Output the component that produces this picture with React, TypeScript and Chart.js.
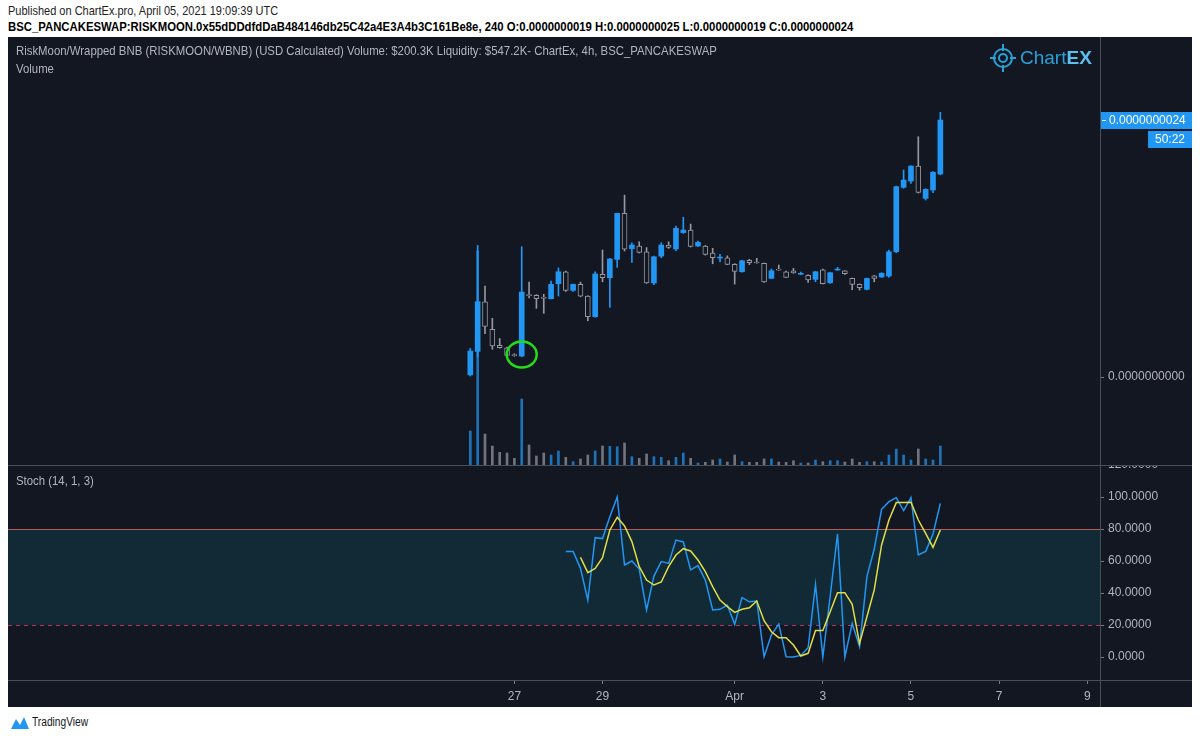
import React, { useEffect, useRef } from 'react';
import { Chart, registerables } from 'chart.js';

Chart.register(...registerables);

// ---------------- DATA ----------------
// 4h candles, index 0 = 26 Mar 2021 00:00 UTC. Prices in units of 1e-10.
const opens = [0.2, 2.4, 7.04, 4.46, 2.96, 2.74, 2.05, 1.96, 7.7, 7.64, 7.4, 7.32, 8.72, 9.84, 8.1, 8.66, 7.57, 5.64, 9.6, 9.28, 11.0, 15.3, 12.0, 12.24, 11.7, 8.79, 11.3, 12.34, 11.96, 13.5, 13.74, 12.24, 12.24, 11.59, 11.12, 11.15, 10.53, 9.84, 10.9, 10.7, 10.62, 9.22, 10.02, 9.84, 9.93, 9.6, 9.5, 9.13, 10.03, 8.81, 10.0, 9.93, 9.22, 8.66, 8.2, 9.47, 9.35, 9.44, 11.71, 17.73, 18.32, 19.72, 16.7, 17.48, 18.97];
const highs = [2.68, 12.3, 8.5, 5.49, 3.6, 2.8, 2.18, 12.18, 8.88, 7.7, 7.73, 8.97, 10.2, 9.9, 8.7, 8.88, 7.6, 9.84, 11.87, 11.1, 15.3, 17.0, 12.55, 12.64, 12.1, 11.3, 12.55, 12.64, 14.1, 14.93, 14.3, 12.7, 12.3, 12.03, 11.47, 11.33, 10.6, 10.9, 11.0, 11.1, 10.65, 10.1, 10.47, 9.9, 10.16, 9.81, 9.55, 9.88, 10.1, 9.8, 10.25, 9.95, 9.25, 8.7, 9.25, 9.5, 9.75, 11.87, 17.85, 19.35, 19.75, 22.46, 17.6, 19.2, 24.74];
const lows = [0.1, 1.9, 4.05, 2.59, 2.7, 2.0, 1.93, 1.9, 7.4, 6.42, 5.95, 7.3, 7.57, 8.0, 8.0, 7.5, 5.26, 5.6, 8.9, 6.51, 10.25, 11.78, 10.72, 11.6, 8.75, 8.63, 11.15, 12.03, 11.8, 13.43, 12.15, 12.2, 11.4, 10.59, 10.75, 10.5, 8.69, 9.8, 10.5, 10.64, 8.85, 9.2, 9.98, 9.3, 9.7, 9.58, 8.85, 8.9, 8.7, 8.75, 9.98, 9.6, 8.16, 8.13, 8.15, 8.9, 9.3, 9.3, 11.62, 17.64, 18.1, 17.2, 16.54, 17.22, 18.9];
const closes = [2.43, 7.04, 4.74, 2.9, 2.74, 2.03, 2.0, 7.94, 7.6, 7.32, 7.35, 8.66, 9.84, 8.1, 8.66, 7.57, 5.64, 9.63, 9.28, 11.03, 15.3, 11.96, 12.34, 11.65, 8.8, 11.24, 12.34, 12.12, 13.9, 13.74, 12.2, 12.59, 11.47, 11.15, 11.18, 10.53, 9.88, 10.87, 10.68, 10.66, 8.9, 9.93, 10.0, 9.32, 9.72, 9.63, 9.07, 9.84, 8.72, 9.75, 10.03, 9.65, 8.66, 8.35, 9.22, 9.22, 9.7, 11.71, 17.79, 18.41, 19.72, 17.26, 17.54, 19.13, 24.02];
const volumes = [34, 214, 31, 19, 12.7, 12, 6.7, 66, 20, 9, 12, 10, 14, 7.7, 3.3, 6, 10, 14, 19, 18.7, 18.3, 22, 8.3, 6.7, 11, 8.3, 7.7, 4.3, 7.7, 12, 6.7, 2, 2.7, 5, 6, 3, 10, 3.3, 2.7, 2.7, 6, 6, 3, 2.7, 4.3, 2, 2, 5, 3.3, 4.3, 4.3, 3, 6, 2.7, 3.3, 3.3, 3, 10, 16, 10, 5, 16, 6, 5, 19];

// Stochastic (14, 1, 3)
const K_START = 13;
const stochK = [66.0, 66.0, 55.4, 35.6, 74.6, 74.0, 87.7, 100, 57.5, 60, 55, 29.4, 50.6, 59.6, 58.5, 73.1, 71.9, 54.4, 57.1, 48.1, 29.4, 29.8, 32.5, 20.4, 37.1, 34.5, 35.0, 0.2, 13.8, 20.6, 0.2, 0, 1, 5.8, 45.4, 0, 38, 76.9, 0, 21, 6.5, 50.2, 67.5, 92.3, 97.1, 99.6, 91.5, 99.6, 63.8, 66, 76.9, 96];
const D_START = 15;
const stochD = [62.3, 52.7, 55.4, 62.1, 79.4, 87.3, 81.9, 72.1, 56.5, 48.1, 45, 46.9, 56.5, 63.75, 67.7, 66.25, 60.6, 53.3, 44, 35.6, 31.5, 27.9, 29.8, 30.8, 35, 22.7, 15.8, 12.1, 12.1, 7.5, 0.6, 2.3, 16.5, 16.5, 28.3, 40.2, 40.2, 32.9, 8.5, 25.2, 41.9, 70, 85.6, 96.5, 96.5, 96.7, 85.6, 77.3, 68.5, 79.4];
const STOCH_UPPER = 80;
const STOCH_LOWER = 20;

// Axes
const timeTickIdx = [6, 18, 36, 48, 60, 72, 84];
const timeTickLabels = ['27', '29', 'Apr', '3', '5', '7', '9'];
const priceTicks = [0];
const stochTicks = [0, 20, 40, 60, 80, 100, 120];

// Annotation (hand-drawn circle): [candle index, price]
const circleMark = [7, 2.1];
const countdown = '50:22';

// ---------------- VIEW / STYLE ----------------
const X_MIN = -62.95;
const X_MAX = 85.74;
const Y_MIN = -8.22;
const Y_MAX = 31.78;
const VOL_MAX = 428;
const S_MIN = -14.375;
const S_MAX = 120;
const AXIS_W = 92;

const BG = '#131722';
const BLUE = '#2196f3';
const GRAY = '#9598a1';
const YELLOW = '#e3dc45';
const TEXT = '#b2b5be';
const SEP = '#4a4e59';
const SANS = '"Liberation Sans", Arial, sans-serif';

const fmtPrice = (v: number) => (v * 1e-10).toFixed(10);

function Narrow({ k, children, style }: { k: number; children: React.ReactNode; style: React.CSSProperties }) {
  return (
    <div style={{ position: 'absolute', whiteSpace: 'nowrap', fontFamily: SANS, transform: `scaleX(${k})`, transformOrigin: '0 0', ...style }}>
      {children}
    </div>
  );
}

export default function App() {
  const mainRef = useRef<HTMLCanvasElement>(null);
  const stochRef = useRef<HTMLCanvasElement>(null);

  useEffect(() => {
    const idx = opens.map((_, i) => i);
    const up = idx.map((i) => closes[i] >= opens[i]);

    const mainOverlay = {
      id: 'mainOverlay',
      afterDatasetsDraw(chart: any) {
        const { ctx, scales } = chart;
        const cx = scales.x.getPixelForValue(circleMark[0]);
        const cy = scales.y.getPixelForValue(circleMark[1]);
        ctx.save();
        ctx.strokeStyle = '#22dd1a';
        ctx.lineWidth = 2.5;
        ctx.beginPath();
        ctx.ellipse(cx, cy, 15, 13, 0, 0, Math.PI * 2);
        ctx.stroke();
        ctx.restore();
      },
      afterDraw(chart: any) {
        const { ctx, chartArea, scales, width, height } = chart;
        ctx.save();
        ctx.fillStyle = SEP;
        ctx.fillRect(Math.round(chartArea.right), 0, 1, height);
        const last = closes[closes.length - 1];
        const py = Math.round(scales.y.getPixelForValue(last));
        ctx.fillStyle = BLUE;
        ctx.fillRect(chartArea.right + 1, py - 8, width - chartArea.right, 17);
        ctx.fillStyle = '#ffffff';
        ctx.fillRect(chartArea.right + 2, py, 4, 1);
        ctx.font = '12px ' + SANS;
        ctx.textBaseline = 'middle';
        ctx.textAlign = 'left';
        ctx.fillText(fmtPrice(last), chartArea.right + 9, py + 1);
        ctx.fillStyle = BLUE;
        ctx.fillRect(width - 44, py + 11, 44, 17);
        ctx.fillStyle = '#ffffff';
        ctx.textAlign = 'center';
        ctx.fillText(countdown, width - 22, py + 20);
        ctx.restore();
      },
    };

    const main = new Chart(mainRef.current as HTMLCanvasElement, {
      type: 'bar',
      data: {
        datasets: [
          {
            type: 'bar',
            data: idx.map((i) => ({ x: i, y: [opens[i], closes[i]] })) as any,
            backgroundColor: idx.map((i) => (up[i] ? BLUE : BG)),
            borderColor: idx.map((i) => (up[i] ? BLUE : GRAY)),
            borderWidth: idx.map((i) => (up[i] ? 0 : 1)) as any,
            borderSkipped: false,
            barThickness: 5,
            minBarLength: 1,
            grouped: false,
            order: 0,
            yAxisID: 'y',
          } as any,
          {
            type: 'bar',
            data: idx.map((i) => ({ x: i, y: [lows[i], highs[i]] })) as any,
            backgroundColor: idx.map((i) => (up[i] ? BLUE : GRAY)),
            barThickness: 1,
            grouped: false,
            order: 1,
            yAxisID: 'y',
          } as any,
          {
            type: 'bar',
            data: idx.map((i) => ({ x: i, y: volumes[i] })) as any,
            backgroundColor: idx.map((i) => (up[i] ? 'rgba(33,150,243,0.72)' : 'rgba(149,152,161,0.72)')),
            barThickness: 2,
            grouped: false,
            order: 2,
            yAxisID: 'v',
          } as any,
        ],
      },
      options: {
        animation: false,
        responsive: false,
        layout: { padding: 0 },
        plugins: { legend: { display: false }, tooltip: { enabled: false } },
        scales: {
          x: { type: 'linear', min: X_MIN, max: X_MAX, display: false, offset: false, grid: { display: false } },
          y: {
            type: 'linear',
            position: 'right',
            min: Y_MIN,
            max: Y_MAX,
            afterBuildTicks: (s: any) => { s.ticks = priceTicks.map((v) => ({ value: v })); },
            afterFit: (s: any) => { s.width = AXIS_W; s.paddingTop = 0; s.paddingBottom = 0; },
            ticks: { callback: (v: any) => fmtPrice(Number(v)), color: TEXT, font: { family: SANS, size: 12 }, padding: 4 },
            grid: { drawOnChartArea: false, drawTicks: true, tickLength: 4, color: '#787b86' },
            border: { display: false },
          },
          v: { type: 'linear', display: false, min: 0, max: VOL_MAX },
        },
      } as any,
      plugins: [mainOverlay],
    });

    const stochOverlay = {
      id: 'stochOverlay',
      beforeDatasetsDraw(chart: any) {
        const { ctx, chartArea, scales } = chart;
        const t = scales.y.getPixelForValue(STOCH_UPPER);
        const b = scales.y.getPixelForValue(STOCH_LOWER);
        ctx.save();
        ctx.fillStyle = '#112a35';
        ctx.fillRect(chartArea.left, t, chartArea.right - chartArea.left, b - t);
        ctx.strokeStyle = '#b85a55';
        ctx.lineWidth = 1;
        ctx.beginPath();
        ctx.moveTo(chartArea.left, Math.round(t) + 0.5);
        ctx.lineTo(chartArea.right, Math.round(t) + 0.5);
        ctx.stroke();
        ctx.strokeStyle = '#b8306a';
        ctx.setLineDash([4, 4]);
        ctx.beginPath();
        ctx.moveTo(chartArea.left, Math.round(b) + 0.5);
        ctx.lineTo(chartArea.right, Math.round(b) + 0.5);
        ctx.stroke();
        ctx.restore();
      },
      afterDraw(chart: any) {
        const { ctx, chartArea, width, height } = chart;
        ctx.save();
        ctx.fillStyle = SEP;
        ctx.fillRect(0, 0, width, 1);
        ctx.fillRect(0, Math.round(chartArea.bottom), width, 1);
        ctx.fillRect(Math.round(chartArea.right), 0, 1, height);
        ctx.restore();
      },
    };

    const stoch = new Chart(stochRef.current as HTMLCanvasElement, {
      type: 'line',
      data: {
        datasets: [
          {
            data: stochD.map((v, j) => ({ x: j + D_START, y: v })),
            borderColor: YELLOW,
            borderWidth: 1.5,
            pointRadius: 0,
            tension: 0,
            order: 0,
          },
          {
            data: stochK.map((v, j) => ({ x: j + K_START, y: v })),
            borderColor: BLUE,
            borderWidth: 1.5,
            pointRadius: 0,
            tension: 0,
            order: 1,
          },
        ],
      },
      options: {
        animation: false,
        responsive: false,
        layout: { padding: 0 },
        plugins: { legend: { display: false }, tooltip: { enabled: false } },
        scales: {
          x: {
            type: 'linear',
            min: X_MIN,
            max: X_MAX,
            offset: false,
            afterBuildTicks: (s: any) => { s.ticks = timeTickIdx.map((v) => ({ value: v })); },
            afterFit: (s: any) => { s.height = 27; s.paddingLeft = 0; s.paddingRight = 0; },
            ticks: {
              callback: (_v: any, i: number) => timeTickLabels[i],
              color: TEXT,
              font: { family: SANS, size: 12 },
              maxRotation: 0,
              autoSkip: false,
              padding: 5,
            },
            grid: { drawOnChartArea: false, drawTicks: true, tickLength: 4, color: '#787b86' },
            border: { display: false },
          },
          y: {
            type: 'linear',
            position: 'right',
            min: S_MIN,
            max: S_MAX,
            afterBuildTicks: (s: any) => { s.ticks = stochTicks.map((v) => ({ value: v })); },
            afterFit: (s: any) => { s.width = AXIS_W; s.paddingTop = 0; s.paddingBottom = 0; },
            ticks: { callback: (v: any) => Number(v).toFixed(4), color: TEXT, font: { family: SANS, size: 12 }, padding: 4 },
            grid: { drawOnChartArea: false, drawTicks: true, tickLength: 4, color: '#787b86' },
            border: { display: false },
          },
        },
      } as any,
      plugins: [stochOverlay],
    });

    return () => {
      main.destroy();
      stoch.destroy();
    };
  }, []);

  const legend: React.CSSProperties = { left: 8, fontSize: 13, lineHeight: '15px', color: TEXT };

  return (
    <div style={{ position: 'absolute', left: 0, top: 0, width: 1200, height: 739, background: '#ffffff', overflow: 'hidden', fontFamily: SANS }}>
      <Narrow k={0.846} style={{ left: 8, top: 3, fontSize: 13, lineHeight: '15px', color: '#222' }}>
        Published on ChartEx.pro, April 05, 2021 19:09:39 UTC
      </Narrow>
      <Narrow k={0.872} style={{ left: 8, top: 19, fontSize: 13, lineHeight: '15px', color: '#000', fontWeight: 'bold' }}>
        BSC_PANCAKESWAP:RISKMOON.0x55dDDdfdDaB484146db25C42a4E3A4b3C161Be8e, 240 O:0.0000000019 H:0.0000000025 L:0.0000000019 C:0.0000000024
      </Narrow>
      <div style={{ position: 'absolute', left: 8, top: 37, width: 1184, height: 670, background: BG, overflow: 'hidden' }}>
        <canvas ref={mainRef} width={1184} height={428} style={{ position: 'absolute', left: 0, top: 0, width: 1184, height: 428 }} />
        <canvas ref={stochRef} width={1184} height={242} style={{ position: 'absolute', left: 0, top: 428, width: 1184, height: 242 }} />
        <Narrow k={0.875} style={{ ...legend, top: 6 }}>
          RiskMoon/Wrapped BNB (RISKMOON/WBNB) (USD Calculated) Volume: $200.3K Liquidity: $547.2K- ChartEx, 4h, BSC_PANCAKESWAP
        </Narrow>
        <Narrow k={0.875} style={{ ...legend, top: 24 }}>Volume</Narrow>
        <Narrow k={0.875} style={{ ...legend, top: 436 }}>Stoch (14, 1, 3)</Narrow>
        <div style={{ position: 'absolute', left: 982, top: 6, display: 'flex', alignItems: 'center' }}>
          <svg width="26" height="30" viewBox="0 0 26 30">
            <circle cx="13" cy="15" r="9" fill="none" stroke="#2a9fd8" strokeWidth="2" />
            <circle cx="13" cy="15" r="4" fill="none" stroke="#2a9fd8" strokeWidth="2" />
            <line x1="13" y1="1" x2="13" y2="8" stroke="#2a9fd8" strokeWidth="2" />
            <line x1="13" y1="22" x2="13" y2="29" stroke="#2a9fd8" strokeWidth="2" />
            <line x1="0" y1="15" x2="6" y2="15" stroke="#2a9fd8" strokeWidth="2" />
            <line x1="20" y1="15" x2="26" y2="15" stroke="#2a9fd8" strokeWidth="2" />
          </svg>
          <span style={{ marginLeft: 4, fontFamily: SANS, fontSize: 19, color: '#2a9fd8' }}>Chart</span>
          <span style={{ fontFamily: SANS, fontSize: 19, fontWeight: 'bold', color: '#5cc0ee' }}>EX</span>
        </div>
      </div>
      <div style={{ position: 'absolute', left: 10, top: 714, display: 'flex', alignItems: 'center' }}>
        <svg width="20" height="16" viewBox="0 0 20 16">
          <path d="M1 15 L6 5 L10 11 L14 3 L19 15 Z" fill="#2196f3" />
        </svg>
        <span style={{ marginLeft: 2, fontSize: 12, color: '#131722', display: 'inline-block', transform: 'scaleX(0.85)', transformOrigin: '0 0' }}>TradingView</span>
      </div>
    </div>
  );
}
